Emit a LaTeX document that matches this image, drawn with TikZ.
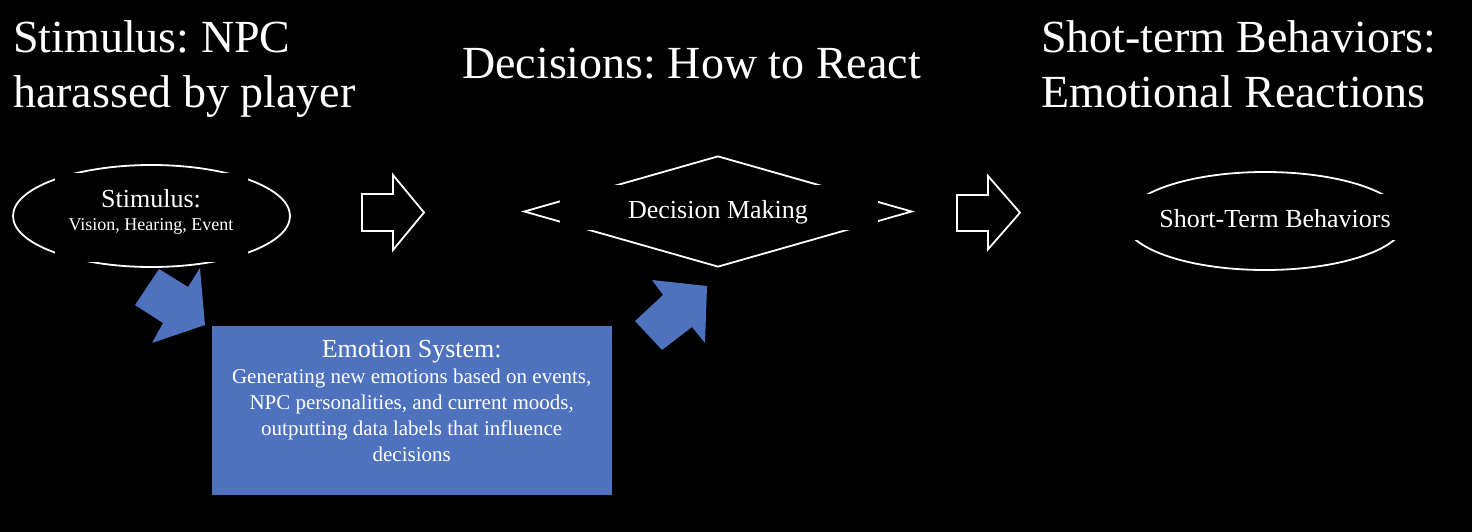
\documentclass[tikz,border=0pt]{standalone}
\usepackage{fontspec}
\setmainfont{Liberation Serif}
\frenchspacing
\usetikzlibrary{shapes.geometric}
\definecolor{bluebox}{RGB}{79,114,190}
\begin{document}
\begin{tikzpicture}[x=1pt,y=-1pt,
  outline/.style={draw=white,line width=1.8pt,inner sep=0pt},
  maskbox/.style={fill=black,inner sep=0pt,outer sep=0pt},
  title/.style={text=white,font=\frenchspacing\fontsize{46}{55}\selectfont,align=left,inner sep=0pt,anchor=base west},
  lbl/.style={text=white,inner sep=0pt,anchor=base},
  blockarrow/.style={draw=white,line width=1.8pt,fill=black,line join=miter},
  bluearrow/.style={fill=bluebox}]
\useasboundingbox[fill=black] (0,0) rectangle (1472,532);

% titles (base anchor = baseline of last line)
\node[title] (t1) at (13,108) {Stimulus: NPC\\harassed by player};
\node[title] (t2) at (462,78.3) {Decisions: How to React};
\node[title] (t3) at (1041,108) {Shot-term Behaviors:\\Emotional Reactions};

% stimulus ellipse
\node[ellipse,outline,minimum width=277pt,minimum height=102pt] (stim) at (151.5,216) {};
\node[maskbox,minimum width=193pt,minimum height=89pt] (stimmask) at (151.5,217.5) {};
\node[lbl,font=\fontsize{26}{26}\selectfont] (stimtitle) at (151,207) {Stimulus:};
\node[lbl,font=\fontsize{18}{18}\selectfont] (stimsub) at (151,230) {Vision, Hearing, Event};

% decision diamond
\node[diamond,outline,minimum width=388pt,minimum height=111pt] (dec) at (718,211.5) {};
\node[maskbox,minimum width=318pt,minimum height=45pt] (decmask) at (719,207.5) {};
\node[lbl,font=\fontsize{26}{26}\selectfont] (dectext) at (718,218.3) {Decision Making};

% short-term ellipse
\node[ellipse,outline,minimum width=280pt,minimum height=98pt] (stb) at (1265,221) {};
\node[maskbox,minimum width=310pt,minimum height=46pt] (stbmask) at (1270,217) {};
\node[lbl,font=\fontsize{26}{26}\selectfont] (stbtext) at (1275,227.3) {Short-Term Behaviors};

% hollow block arrows
\draw[blockarrow] (362,194) -- (393,194) -- (393,175) -- (424,212.5) -- (393,250) -- (393,231) -- (362,231) -- cycle;
\draw[blockarrow] (957,195) -- (988,195) -- (988,176) -- (1020,212.7) -- (988,249.3) -- (988,231) -- (957,231) -- cycle;

% blue block arrows
\fill[bluearrow] (159,269) -- (188,287) -- (200,268) -- (205,325) -- (152,343) -- (163,323) -- (135,305) -- cycle;
\fill[bluearrow] (652,280) -- (707,286) -- (705,343) -- (692,327) -- (662,350) -- (635,321) -- (663,295) -- cycle;

% emotion system box
\node[fill=bluebox,minimum width=400pt,minimum height=169pt,inner sep=0pt,anchor=north west] (emo) at (212,326) {};
\node[lbl,align=center,font=\fontsize{21}{25.8}\selectfont] (emotext) at (411.7,461)
  {{\fontsize{26}{26}\selectfont Emotion System:}\\Generating new emotions based on events,\\NPC personalities, and current moods,\\outputting data labels that influence\\decisions};
\end{tikzpicture}
\end{document}
